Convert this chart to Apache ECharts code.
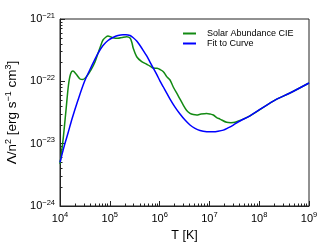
<!DOCTYPE html>
<html><head><meta charset="utf-8">
<script src="https://cdn.jsdelivr.net/npm/echarts@6/dist/echarts.min.js"></script>
<style>html,body{margin:0;padding:0;background:#fff}#c{width:332px;height:249px}</style>
</head><body><div id="c"></div>
<script>
// Temperature [K] and cooling function Λ/n² [erg s^-1 cm^3]
const T_cie = [1e4,1.15e4,1.32e4,1.48e4,1.63e4,1.82e4,2.10e4,2.52e4,2.90e4,3.48e4,4.19e4,5.04e4,5.79e4,6.65e4,7.30e4,8.39e4,9.20e4,1.06e5,1.21e5,1.46e5,1.76e5,2.18e5,2.55e5,2.79e5,2.96e5,3.47e5,4.37e5,5.51e5,6.42e5,7.47e5,8.87e5,1.02e6,1.19e6,1.39e6,1.62e6,1.88e6,2.38e6,2.99e6,3.50e6,4.08e6,4.75e6,5.56e6,6.78e6,8.83e6,1.03e7,1.20e7,1.40e7,1.63e7,2.22e7,2.71e7,3.27e7,4.11e7,6.53e7,1.92e8,4.15e8,1e9];
const L_cie = [4.7e-24,1.14e-23,3.46e-23,8.73e-23,1.31e-22,1.46e-22,1.31e-22,1.09e-22,1.07e-22,1.22e-22,1.52e-22,2.04e-22,2.81e-22,3.83e-22,4.60e-22,5.14e-22,5.33e-22,5.14e-22,4.95e-22,4.90e-22,5.05e-22,5.20e-22,4.95e-22,4.12e-22,3.39e-22,2.48e-22,2.07e-22,1.88e-22,1.76e-22,1.63e-22,1.62e-22,1.55e-22,1.43e-22,1.19e-22,1.05e-22,8.11e-23,5.81e-23,4.17e-23,3.40e-23,3.06e-23,2.93e-23,2.88e-23,2.99e-23,3.06e-23,2.99e-23,2.88e-23,2.62e-23,2.48e-23,2.20e-23,2.17e-23,2.20e-23,2.35e-23,2.80e-23,4.83e-23,6.49e-23,9.4e-23];
const T_fit = [1e4,1.20e4,1.45e4,1.74e4,2.30e4,3.13e4,4.25e4,5.79e4,7.30e4,9.20e4,1.16e5,1.46e5,1.84e5,2.11e5,2.55e5,2.92e5,3.47e5,4.04e5,4.71e5,5.51e5,6.42e5,7.47e5,8.75e5,1.02e6,1.19e6,1.39e6,1.62e6,2.04e6,2.57e6,3.24e6,4.08e6,5.14e6,6.47e6,8.83e6,1.20e7,1.49e7,1.90e7,2.36e7,3.02e7,4.11e7,6.53e7,1.92e8,4.15e8,1e9];
const L_fit = [5.0e-24,8.81e-24,1.48e-23,2.48e-23,5.01e-23,1.01e-22,1.71e-22,2.81e-22,3.76e-22,4.52e-22,5.05e-22,5.43e-22,5.60e-22,5.60e-22,5.43e-22,5.05e-22,4.44e-22,3.76e-22,3.12e-22,2.55e-22,2.04e-22,1.63e-22,1.29e-22,1.01e-22,8.11e-23,6.49e-23,5.20e-23,3.86e-23,2.99e-23,2.39e-23,1.99e-23,1.76e-23,1.63e-23,1.56e-23,1.55e-23,1.58e-23,1.65e-23,1.79e-23,1.99e-23,2.31e-23,2.80e-23,4.83e-23,6.49e-23,9.4e-23];
const seriesNames = ['Solar Abundance CIE','Fit to Curve'];
const xTickExp = ['4','5','6','7','8','9'];
const yTickExp = ['−24','−23','−22','−21'];
const xTitle = 'T [K]';
// y title pieces: [text, isSuperscript]
const yTitleParts = [['Λ/n',0],['2',1],[' [erg s',0],['−1',1],[' cm',0],['3',1],[']',0]];

// ECharts rounds very small numbers to 0, so the y data are given to the library in units of 1e-24
const Y_UNIT_EXP = -24;
const Y_UNIT = Math.pow(10, Y_UNIT_EXP);
const font = "'Liberation Sans', Arial, Helvetica, sans-serif";
const pairs = (a,b) => a.map((v,i)=>[v, b[i] / Y_UNIT]);
const rich = {base:{fontSize:11,fontFamily:font,color:'#000'}, sup:{fontSize:7.5,fontFamily:font,color:'#000',verticalAlign:'top',padding:[0,0,7,0]}};
function expLabel(e, list){ const s = list.find(t => Number(t.replace('−','-')) === e); return '{base|10}{sup|' + (s !== undefined ? s : e) + '}'; }
const yTitle = yTitleParts.map(p => (p[1] ? '{s|' : '{b|') + p[0] + '}').join('');

const chart = echarts.init(document.getElementById('c'), null, {renderer:'canvas'});
chart.setOption({
  animation:false,
  grid:{left:60,right:23,top:19,bottom:43,outerBoundsMode:'none',containLabel:false,show:true,borderColor:'#222',borderWidth:1,backgroundColor:'transparent'},
  legend:{orient:'vertical',left:183,top:29,padding:0,itemWidth:13,itemHeight:2,itemGap:1,icon:'rect',
    textStyle:{fontSize:9,fontFamily:font,color:'#000',padding:[0,0,0,6]},
    data:seriesNames},
  xAxis:{type:'log',logBase:10,min:1e4,max:1e9,
    name:xTitle,nameLocation:'middle',nameGap:17,nameTextStyle:{fontSize:12.5,fontFamily:font,color:'#000'},
    axisLine:{lineStyle:{color:'#222',width:1}},
    axisTick:{inside:true,length:5,lineStyle:{color:'#222'}},
    minorTick:{show:true,splitNumber:9,length:2.5,lineStyle:{color:'#222'}},
    splitLine:{show:false},
    axisLabel:{margin:5,formatter:v=>expLabel(Math.round(Math.log10(v)),xTickExp),rich:rich}},
  yAxis:{type:'log',logBase:10,min:1,max:1000,
    name:yTitle,nameLocation:'middle',nameGap:38,nameRotate:90,
    nameTextStyle:{fontFamily:font,color:'#000',rich:{
      b:{fontSize:13.5,fontFamily:font,color:'#000'},
      s:{fontSize:9,fontFamily:font,color:'#000',verticalAlign:'top',padding:[0,0,8,0]}}},
    axisLine:{lineStyle:{color:'#222',width:1}},
    axisTick:{inside:true,length:5,lineStyle:{color:'#222'}},
    minorTick:{show:true,splitNumber:9,length:2.5,lineStyle:{color:'#222'}},
    splitLine:{show:false},
    axisLabel:{margin:5,formatter:v=>expLabel(Math.round(Math.log10(v)) + Y_UNIT_EXP,yTickExp),rich:rich}},
  series:[
    {name:seriesNames[0],type:'line',data:pairs(T_cie,L_cie),smooth:0.3,showSymbol:false,lineStyle:{color:'#138a13',width:1.5},itemStyle:{color:'#138a13'}},
    {name:seriesNames[1],type:'line',data:pairs(T_fit,L_fit),smooth:0.3,showSymbol:false,lineStyle:{color:'#0000ff',width:1.5},itemStyle:{color:'#0000ff'}}
  ]
});
</script></body></html>
